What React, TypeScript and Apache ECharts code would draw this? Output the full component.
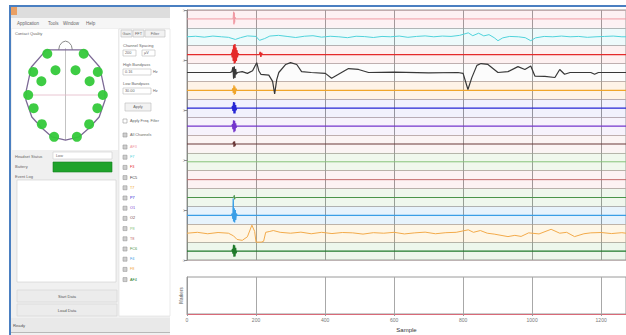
import React, { useEffect, useRef } from "react";
import * as echarts from "echarts";

// ---------- data ----------
const CHANNELS = ["AF3", "F7", "F3", "FC5", "T7", "P7", "O1", "O2", "P8", "T8", "FC6", "F4", "F8", "AF4"];
const Y_TICK_LABELS = ["0", "1", "2", "3", "4", "5"];
const SAMPLE_MAX = 1272;

// traces: [sample, amplitude (channel units)]
const TRACE_AF3 = [[0, 0], [133, 0], [134, 0.1], [135, 0.4], [136, -0.3], [137, 0.35], [138, -0.2], [139, 0.1], [141, 0], [1272, 0]];
const TRACE_F7 = [[0, 0], [25, 0.03], [50, -0.02], [75, 0.04], [100, 0], [120, -0.03], [140, -0.15], [155, -0.05], [175, 0.05], [200, 0.02], [210, -0.2], [225, -0.1], [240, 0.04], [265, 0.08], [290, 0.02], [315, -0.04], [340, 0.03], [365, 0.06], [390, -0.02], [415, 0.03], [440, 0.0], [465, -0.05], [490, 0.03], [515, 0.01], [540, -0.04], [565, 0.02], [590, 0.0], [615, 0.04], [640, -0.03], [665, 0.02], [690, 0.05], [715, 0.0], [740, 0.04], [765, 0.02], [790, 0.08], [815, 0.22], [828, 0.06], [845, 0.2], [860, 0.05], [875, 0.12], [890, -0.05], [901, -0.22], [915, -0.06], [935, 0.02], [960, 0.0], [980, -0.05], [996, -0.22], [1010, -0.06], [1035, 0.02], [1060, 0.0], [1085, 0.04], [1110, 0.0], [1135, 0.02], [1160, -0.03], [1185, 0.0], [1210, 0.02], [1235, 0.04], [1260, 0.0], [1272, 0.0]];
const TRACE_F3 = [[0, 0], [128, 0], [130, 0.1], [131, -0.15], [132, 0.2], [133, 0.3], [134, -0.35], [135, 0.45], [136, 0.55], [137, -0.5], [138, 0.2], [139, 0.6], [140, -0.45], [141, 0.3], [142, 0.4], [143, -0.35], [144, 0.25], [145, 0.2], [146, -0.15], [148, 0.08], [150, 0], [210, 0], [212, 0.15], [214, -0.12], [216, 0.1], [218, 0], [1272, 0]];
const TRACE_FC5 = [[0, 0], [125, 0], [130, 0.05], [133, 0.3], [135, -0.35], [137, 0.35], [139, -0.3], [141, 0.2], [143, -0.1], [146, 0], [160, 0.05], [175, -0.05], [190, 0.1], [202, 0.55], [208, 0.1], [214, -0.1], [237, -0.15], [248, -0.5], [254, -1.2], [260, -0.4], [266, 0.0], [286, 0.45], [300, 0.55], [318, 0.45], [332, 0.05], [360, 0.0], [401, -0.05], [419, -0.32], [439, -0.1], [468, 0.22], [497, 0.17], [526, 0.0], [600, 0.02], [700, -0.02], [785, 0], [800, -0.05], [814, -0.95], [825, -0.3], [840, 0.4], [852, 0.5], [872, 0.45], [901, 0.0], [930, 0.05], [959, 0.33], [979, 0.17], [996, 0.36], [1008, -0.2], [1037, -0.22], [1066, -0.28], [1080, 0.17], [1094, -0.1], [1110, 0.0], [1170, 0.0], [1181, -0.1], [1192, 0.0], [1272, 0]];
const TRACE_T7 = [[0, 0], [131, 0], [133, 0.12], [134, -0.15], [136, 0.28], [137, -0.25], [139, 0.22], [140, -0.2], [142, 0.1], [144, 0], [1272, 0]];
const TRACE_P7 = [[0, 0], [130, 0], [132, 0.12], [133, -0.15], [135, 0.35], [136, -0.3], [138, 0.32], [139, -0.3], [141, 0.18], [142, -0.12], [144, 0], [1272, 0]];
const TRACE_O1 = [[0, 0], [130, 0], [132, 0.1], [133, -0.18], [135, 0.33], [136, -0.35], [138, 0.3], [139, -0.28], [141, 0.15], [142, -0.1], [144, 0], [1272, 0]];
const TRACE_O2 = [[0, 0], [133, 0], [135, 0.12], [136, -0.17], [138, 0.15], [139, -0.12], [141, 0], [1272, 0]];
const TRACE_P8 = [[0, 0], [1272, 0]];
const TRACE_T8 = [[0, 0], [1272, 0]];
const TRACE_FC6 = [[0, 0], [135, 0], [137, 0.12], [138, -0.1], [140, 0], [1272, 0]];
const TRACE_F4 = [[0, 0], [129, 0], [131, 0.1], [133, -0.2], [134, 0.95], [135, -0.35], [137, 0.4], [138, -0.4], [140, 0.3], [141, -0.25], [143, 0.1], [145, 0], [1272, 0]];
const TRACE_F8 = [[0, 0], [30, 0.05], [60, -0.03], [90, 0.04], [120, 0.0], [135, -0.15], [145, -0.35], [160, -0.4], [175, -0.2], [188, 0.45], [196, 0.1], [200, -0.5], [215, -0.5], [222, -0.45], [228, 0.05], [240, 0.1], [250, 0.15], [270, 0.05], [300, 0.0], [330, 0.06], [360, -0.03], [390, 0.05], [420, -0.02], [450, 0.04], [480, 0.02], [510, -0.05], [540, 0.03], [570, 0.0], [600, 0.05], [630, -0.04], [660, 0.02], [690, 0.06], [720, -0.03], [750, 0.03], [780, 0.05], [815, 0.19], [830, 0.05], [850, 0.15], [870, 0.0], [890, -0.05], [930, -0.19], [950, -0.12], [968, -0.18], [990, 0.02], [1020, -0.04], [1055, 0.22], [1080, 0.0], [1100, 0.05], [1123, -0.19], [1150, -0.03], [1170, 0.02], [1200, 0.04], [1230, -0.02], [1260, 0.03], [1272, 0]];
const TRACE_AF4 = [[0, 0], [130, 0], [132, 0.12], [133, -0.15], [135, 0.35], [136, -0.32], [138, 0.32], [139, -0.3], [141, 0.18], [142, -0.12], [144, 0], [1272, 0]];

const TRACES = [TRACE_AF3, TRACE_F7, TRACE_F3, TRACE_FC5, TRACE_T7, TRACE_P7, TRACE_O1, TRACE_O2, TRACE_P8, TRACE_T8, TRACE_FC6, TRACE_F4, TRACE_F8, TRACE_AF4];

// head map (normalized head coordinates)
const ELECTRODES = [
  [-0.40, 0.75], [0.40, 0.75], [-0.22, 0.45], [0.22, 0.45], [-0.71, 0.42], [0.71, 0.42],
  [-0.53, 0.25], [0.53, 0.25], [-0.82, 0], [0.82, 0], [-0.70, -0.24], [0.70, -0.24],
  [-0.52, -0.53], [0.52, -0.53], [-0.25, -0.76], [0.25, -0.76],
];
const HEAD_OUTLINE = [[-0.42, 0.82], [0.42, 0.82], [0.75, 0.51], [0.86, 0.09], [0.87, -0.09], [0.74, -0.40], [0.52, -0.60], [0.30, -0.76], [0, -0.82], [-0.30, -0.76], [-0.52, -0.60], [-0.74, -0.40], [-0.87, -0.09], [-0.86, 0.09], [-0.75, 0.51], [-0.42, 0.82]];
const NOSE = [[-0.15, 0.82], [-0.13, 0.90], [-0.07, 0.96], [0, 0.98], [0.07, 0.96], [0.13, 0.90], [0.15, 0.82]];
const CROSS_V = [[0, 0.85], [0, -0.82]];
const CROSS_H = [[-0.86, 0], [0.87, 0]];

// ---------- styles ----------
const CH_COLORS = ["#f09aa4", "#4fd3db", "#e42a2a", "#383838", "#f0a52a", "#2626d4", "#7436cc", "#6a3838", "#86c47a", "#c46a6a", "#4a944a", "#3a9ee6", "#f2aa4a", "#1e7a2a"];
const CH_WIDTHS = [1, 1, 1.4, 1.2, 1.2, 1.3, 1.3, 1.1, 1, 1, 1, 1.3, 1, 1.3];
const BAND_TINTS = ["rgba(240,120,140,0.10)", "rgba(80,210,220,0.10)", "rgba(230,60,60,0.08)", "rgba(200,200,200,0.06)", "rgba(245,160,60,0.12)", "rgba(60,60,220,0.07)", "rgba(130,70,210,0.07)", "rgba(200,110,110,0.08)", "rgba(130,200,110,0.12)", "rgba(230,110,120,0.09)", "rgba(120,190,110,0.12)", "rgba(60,160,230,0.12)", "rgba(245,190,80,0.14)", "rgba(110,190,100,0.12)"];
const FONT = "Liberation Sans, DejaVu Sans, sans-serif";

function txt(x: number, y: number, text: string, fontSize = 4.5, fill = "#666", align = "left") {
  return { type: "text", x, y, z: 10, style: { text, fontSize, fontFamily: FONT, fill, align, verticalAlign: "middle" } };
}
function box(x: number, y: number, w: number, h: number, fill: string, stroke?: string) {
  return { type: "rect", z: 0, shape: { x, y, width: w, height: h }, style: { fill, stroke: stroke || null, lineWidth: stroke ? 0.6 : 0 } };
}

function buildGraphic() {
  const g: any[] = [];
  g.push(box(11, 7, 159, 328, "#f0f0f0"));
  g.push(box(11, 7, 159, 11, "#dddddd"));
  g.push(box(11, 7, 6, 8, "#eaa064"));
  g.push(box(11, 18, 159, 10, "#f6f6f6"));
  g.push(txt(17, 23, "Application"), txt(48, 23, "Tools"), txt(63, 23, "Window"), txt(86, 23, "Help"));
  g.push(box(12, 29, 106, 121, "#ffffff"));
  g.push(txt(15, 33, "Contact Quality", 4));
  g.push(box(119, 29, 51, 287, "#ffffff", "#dddddd"));
  // tabs
  g.push(box(121, 30, 11, 7, "#f2f2f2", "#bbbbbb"), txt(126.5, 33.5, "Gain", 3.8, "#666", "center"));
  g.push(box(133, 30, 11, 7, "#f2f2f2", "#bbbbbb"), txt(138.5, 33.5, "FFT", 3.8, "#666", "center"));
  g.push(box(145, 30, 20, 7, "#f2f2f2", "#bbbbbb"), txt(155, 33.5, "Filter", 3.8, "#666", "center"));
  g.push(txt(123, 45, "Channel Spacing", 4));
  g.push(box(123, 50, 13, 6, "#ffffff", "#bbbbbb"), txt(125, 53, "200", 3.8));
  g.push(box(142, 50, 13, 6, "#ffffff", "#bbbbbb"), txt(144, 53, "µV", 3.8));
  g.push(txt(123, 64, "High Bandpass", 4));
  g.push(box(123, 69, 28, 6, "#ffffff", "#bbbbbb"), txt(125, 72, "0.16", 3.8), txt(153, 72, "Hz", 3.8));
  g.push(txt(123, 83, "Low Bandpass", 4));
  g.push(box(123, 88, 28, 6, "#ffffff", "#bbbbbb"), txt(125, 91, "30.00", 3.8), txt(153, 91, "Hz", 3.8));
  g.push(box(125, 103, 26, 8, "#f2f2f2", "#bbbbbb"), txt(138, 107, "Apply", 3.8, "#666", "center"));
  g.push(box(123, 119, 4, 4, "#ffffff", "#999999"), txt(130, 121, "Apply Freq. Filter", 3.8));
  g.push(box(123, 133, 4, 4, "#cfcfcf", "#999999"), txt(130, 135, "All Channels", 3.8));
  CHANNELS.forEach((name, k) => {
    const y = 147 + k * 10.2;
    g.push(box(123, y - 2, 4, 4, "#cfcfcf", "#999999"));
    g.push(txt(130, y, name, 3.8, CH_COLORS[k]));
  });
  // headset status
  g.push(txt(15, 156, "Headset Status", 4));
  g.push(box(53, 152, 59, 7, "#ffffff", "#cccccc"), txt(56, 155.5, "Low", 3.8));
  g.push(txt(15, 166, "Battery", 4));
  g.push(box(53, 162, 59, 10, "#1fa32b", "#168020"));
  g.push(txt(15, 176, "Event Log", 4));
  g.push(box(17, 180, 99, 102, "#ffffff", "#cccccc"));
  g.push(box(17, 290, 100, 12, "#ececec", "#d4d4d4"), txt(67, 296, "Start Data", 4, "#555", "center"));
  g.push(box(17, 304, 100, 12, "#ececec", "#d4d4d4"), txt(67, 310, "Load Data", 4, "#555", "center"));
  g.push(box(11, 318, 159, 15, "#e9e9e9"));
  g.push(box(11, 332, 159, 1, "#b8b8b8"));
  g.push(txt(13, 325, "Ready", 4.2, "#555"));
  // window borders
  g.push(box(10, 5, 616, 2, "#4a7fc1"));
  g.push(box(9, 5, 2, 330, "#4a7fc1"));
  return g;
}

function buildOption() {
  const channelSeries = CHANNELS.map((name, i) => ({
    name,
    type: "line",
    xAxisIndex: 0,
    yAxisIndex: 0,
    showSymbol: false,
    symbol: "none",
    silent: true,
    z: i === 3 ? 4 : 3,
    lineStyle: { color: CH_COLORS[i], width: CH_WIDTHS[i] },
    data: TRACES[i].map(([s, a]) => [s, 13.5 - i + a]),
  }));
  const bandSeries = {
    type: "line",
    xAxisIndex: 0,
    yAxisIndex: 0,
    data: [],
    silent: true,
    markArea: {
      silent: true,
      data: CHANNELS.map((_, i) => [{ yAxis: 13 - i, itemStyle: { color: BAND_TINTS[i] } }, { yAxis: 14 - i }]),
    },
  };
  const headLine = (data: number[][], color: string, width: number) => ({
    type: "line", xAxisIndex: 2, yAxisIndex: 3, data, symbol: "none", silent: true,
    lineStyle: { color, width }, z: 2,
  });
  return {
    animation: false,
    backgroundColor: "#ffffff",
    graphic: buildGraphic(),
    grid: [
      { left: 187, top: 10, width: 441, height: 250, show: true, borderColor: "#9a9a9a", borderWidth: 1 },
      { left: 187, top: 277, width: 441, height: 37, show: true, borderColor: "#9a9a9a", borderWidth: 1 },
      { left: 20, top: 40, width: 91, height: 110 },
    ],
    xAxis: [
      { gridIndex: 0, type: "value", min: 0, max: SAMPLE_MAX, interval: 200, axisLabel: { show: false }, axisTick: { show: false }, axisLine: { show: false }, splitLine: { show: true, lineStyle: { color: "#9c9c9c", width: 1 } } },
      {
        gridIndex: 1, type: "value", min: 0, max: SAMPLE_MAX, interval: 200,
        axisLabel: { fontSize: 5, color: "#777", margin: 3, showMaxLabel: false, fontFamily: FONT, formatter: (v: number) => String(v) },
        axisTick: { show: true, length: 2, lineStyle: { color: "#999" } },
        axisLine: { show: true, lineStyle: { color: "#d86a78", width: 1 } },
        splitLine: { show: true, lineStyle: { color: "#a8a8a8", width: 1 } },
        name: "Sample", nameLocation: "middle", nameGap: 13,
        nameTextStyle: { fontSize: 6, color: "#333", fontFamily: FONT },
      },
      { gridIndex: 2, type: "value", min: -1, max: 1, show: false },
    ],
    yAxis: [
      { gridIndex: 0, type: "value", min: 0, max: 14, interval: 1, axisLabel: { show: false }, axisTick: { show: false }, axisLine: { show: false }, splitLine: { show: true, lineStyle: { color: "#bdb3b3", width: 1 } } },
      {
        gridIndex: 0, type: "value", min: 0, max: 5, interval: 1, position: "left",
        axisLine: { show: true, lineStyle: { color: "#888" } },
        axisTick: { show: true, length: 3, lineStyle: { color: "#888" } },
        axisLabel: { fontSize: 4, color: "#aaa", margin: 2, fontFamily: FONT, formatter: (v: number) => Y_TICK_LABELS[Math.round(v)] ?? "" },
        splitLine: { show: false },
      },
      {
        gridIndex: 1, type: "value", min: 0, max: 1, axisLabel: { show: false }, axisTick: { show: false },
        axisLine: { show: true, lineStyle: { color: "#999" } }, splitLine: { show: false },
        name: "Markers", nameLocation: "middle", nameRotate: 90, nameGap: 3,
        nameTextStyle: { fontSize: 4.5, color: "#555", fontFamily: FONT },
      },
      { gridIndex: 2, type: "value", min: -1, max: 1, show: false },
    ],
    series: [
      bandSeries,
      ...channelSeries,
      headLine(CROSS_V, "#b4b4b4", 0.8),
      headLine(CROSS_H, "#e3b8c6", 0.8),
      headLine(NOSE, "#8a8a8a", 1),
      headLine(HEAD_OUTLINE, "#7d6a96", 1.3),
      {
        type: "scatter", xAxisIndex: 2, yAxisIndex: 3, data: ELECTRODES, symbolSize: 10, silent: true, z: 3,
        itemStyle: { color: "#34c93a", opacity: 0.95 },
      },
    ],
  };
}

export default function App() {
  const ref = useRef<HTMLDivElement>(null);
  useEffect(() => {
    const chart = echarts.init(ref.current as HTMLDivElement, null, { renderer: "svg" });
    chart.setOption(buildOption() as any);
    return () => chart.dispose();
  }, []);
  return (
    <div
      ref={ref}
      style={{ position: "fixed", left: 0, top: 0, width: 626, height: 335, background: "#ffffff" }}
    />
  );
}
